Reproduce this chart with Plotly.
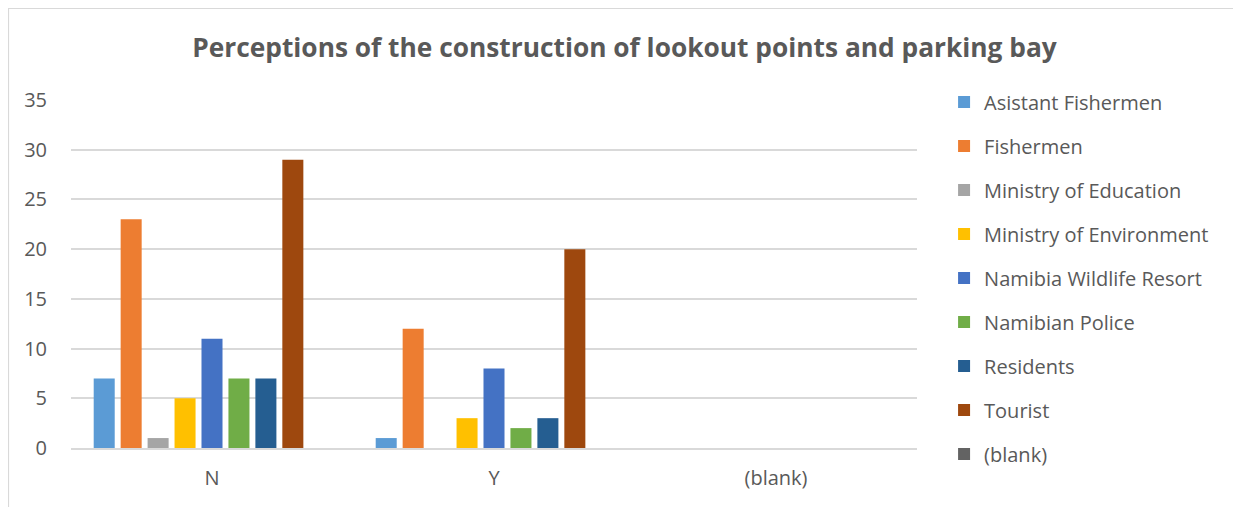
import plotly.graph_objects as go

categories = ["N", "Y", "(blank)"]
series_names = ["Asistant Fishermen", "Fishermen", "Ministry of Education",
                "Ministry of Environment", "Namibia Wildlife Resort",
                "Namibian Police", "Residents", "Tourist", "(blank)"]
asistant_fishermen = [7, 1, None]
fishermen = [23, 12, None]
ministry_of_education = [1, None, None]
ministry_of_environment = [5, 3, None]
namibia_wildlife_resort = [11, 8, None]
namibian_police = [7, 2, None]
residents = [7, 3, None]
tourist = [29, 20, None]
blank = [None, None, None]
series_values = [asistant_fishermen, fishermen, ministry_of_education,
                 ministry_of_environment, namibia_wildlife_resort,
                 namibian_police, residents, tourist, blank]
colors = ["#5B9BD5", "#ED7D31", "#A5A5A5", "#FFC000", "#4472C4",
          "#70AD47", "#255E91", "#9E480E", "#636363"]

FONT = "Open Sans"
TXT = "#595959"

# page body has an 8px margin, so the figure is laid out 8px smaller
W, H = 1233, 499
L, T, PW, PH = 63, 92, 846, 348

fig = go.Figure()
for name, vals, col in zip(series_names, series_values, colors):
    fig.add_trace(go.Bar(name=name, x=categories, y=vals, marker_color=col,
                         marker_line_width=0, legendgroup=name))

fig.update_layout(
    width=W, height=H,
    paper_bgcolor="white", plot_bgcolor="white",
    margin=dict(l=L, r=W - L - PW, t=T, b=H - T - PH, autoexpand=False),
    barmode="group", bargap=0.14, bargroupgap=0.22,
    title=dict(text="<b>Perceptions of the construction of lookout points and parking bay</b>",
               x=0.5, xanchor="center", y=1 - 40 / H, yanchor="middle",
               font=dict(family=FONT, size=26.3, color=TXT)),
    font=dict(family=FONT, size=20, color=TXT),
    legend=dict(x=1.032, xanchor="left", y=1.05, yanchor="top",
                font=dict(family=FONT, size=20, color=TXT),
                tracegroupgap=15, maxheight=700, bgcolor="rgba(0,0,0,0)"),
    xaxis=dict(type="category", categoryorder="array", categoryarray=categories,
               range=[-0.5, 2.5], showline=True, linecolor="#d9d9d9", linewidth=1.5,
               ticks="", tickfont=dict(family=FONT, size=20, color=TXT), ticklabelstandoff=11),
    yaxis=dict(range=[0, 35], dtick=5, showgrid=True, gridcolor="#d9d9d9", gridwidth=1.5,
               zeroline=False, showline=False, ticks="",
               tickfont=dict(family=FONT, size=20, color=TXT), ticklabelstandoff=23),
    shapes=[dict(type="rect", xref="paper", yref="paper",
                 x0=(0.5 - L) / PW, x1=1.5, y0=-0.5, y1=(PH + T - 0.5) / PH,
                 line=dict(color="#d9d9d9", width=1.2), fillcolor="rgba(0,0,0,0)", layer="below")],
)

fig.write_html("out.html")
